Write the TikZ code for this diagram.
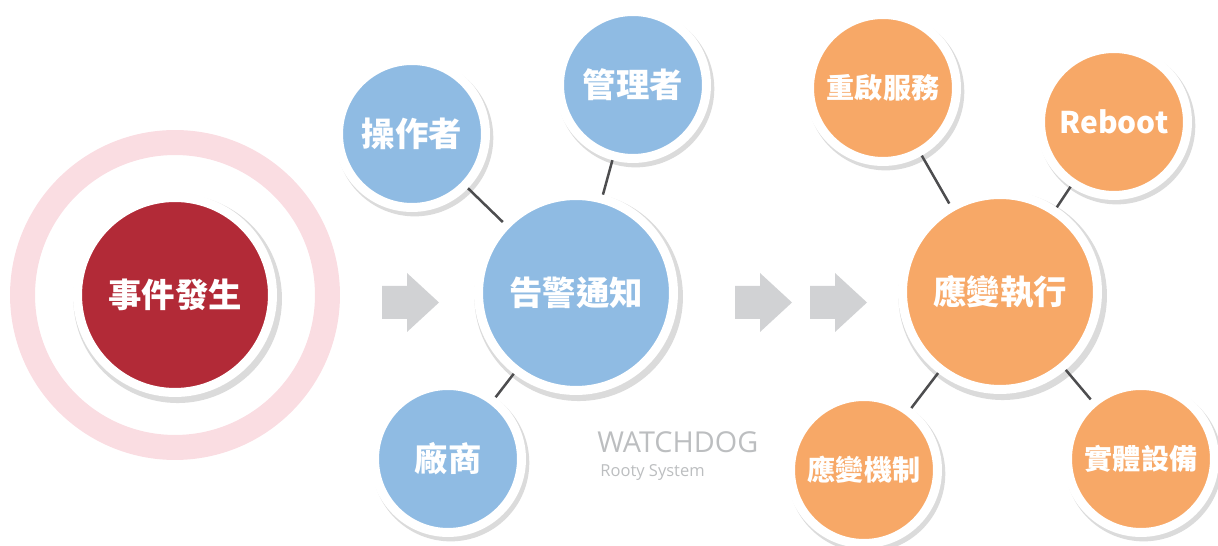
\documentclass[tikz,border=0pt]{standalone}
\usepackage{fontspec}
\usetikzlibrary{shadows}
\newfontfamily\cjk{Noto Sans CJK TC}
\newfontfamily\logofont{Open Sans}
\definecolor{eventred}{HTML}{B22A37}
\definecolor{alertblue}{HTML}{8FBBE3}
\definecolor{actorange}{HTML}{F7A867}
\definecolor{ringpink}{HTML}{FADDE2}
\definecolor{arrowgray}{HTML}{D1D2D4}
\definecolor{linkgray}{HTML}{4D4D4F}
\definecolor{logogray}{HTML}{BCBEC0}

\begin{document}
\begin{tikzpicture}[x=0.02cm, y=-0.02cm,
		bubble/.style={circle, draw=white, line width=0.18cm, text=white, font=\cjk\bfseries\fontsize{19}{22}\selectfont,
			drop shadow={shadow xshift=0.05cm, shadow yshift=-0.07cm, shadow scale=1.07, opacity=0.14, fill=black}},
		big/.style={bubble, minimum size=3.9cm},
		small/.style={bubble, minimum size=2.94cm},
		link/.style={linkgray, line width=0.05cm}]
				\useasboundingbox (0,0) rectangle (1218,546);
				% stage 1
				\node[circle, draw=ringpink, line width=0.5cm, minimum size=6.1cm] (ring)at(175, 295) {};
				\node[big, fill=eventred] (event)at(175, 295) {事件發生};
				% stage 2
				\node[big, fill=alertblue] (alert)at(576, 293) {告警通知};
				\node[small, fill=alertblue] (oper)at(412, 134) {操作者};
				\node[small, fill=alertblue] (mgr)at(633, 85) {管理者};
				\node[small, fill=alertblue] (vendor)at(448, 459) {廠商};
				\draw[link] (alert) -- (oper);
				\draw[link] (alert) -- (mgr);
				\draw[link] (alert) -- (vendor);
				% stage 3
				\node[big, fill=actorange] (act)at(1000, 292) {應變執行};
				\node[small, fill=actorange, font=\cjk\bfseries\fontsize{16}{19}\selectfont] (restart)at(883, 88) {重啟服務};
				\node[small, fill=actorange, font=\cjk\bfseries\fontsize{17}{20}\selectfont] (reboot)at(1114, 122) {Reboot};
				\node[small, fill=actorange, font=\cjk\bfseries\fontsize{16}{19}\selectfont] (mech)at(864, 470) {應變機制};
				\node[small, fill=actorange, font=\cjk\bfseries\fontsize{16}{19}\selectfont] (device)at(1141, 459) {實體設備};
				\draw[link] (act) -- (restart);
				\draw[link] (act) -- (reboot);
				\draw[link] (act) -- (mech);
				\draw[link] (act) -- (device);
				% block arrows
				\foreach \ax in {382, 735, 810}
					\fill[arrowgray] (\ax, 286) -- ++(25, 0) -- ++(0, -13) -- (\ax+57, 302.5) -- (\ax+25, 332) -- ++(0, -13) -- (\ax, 319) -- cycle;
				% logo
				\node[anchor=base west, inner sep=0pt, text=logogray, font=\logofont\fontsize{16.4}{18}\selectfont] (logo)at(597, 453) {WATCHDOG};
				\node[anchor=base west, inner sep=0pt, text=logogray, font=\logofont\fontsize{9.4}{11}\selectfont] (sub)at(600, 477) {Rooty System};
			\end{tikzpicture}
\end{document}
